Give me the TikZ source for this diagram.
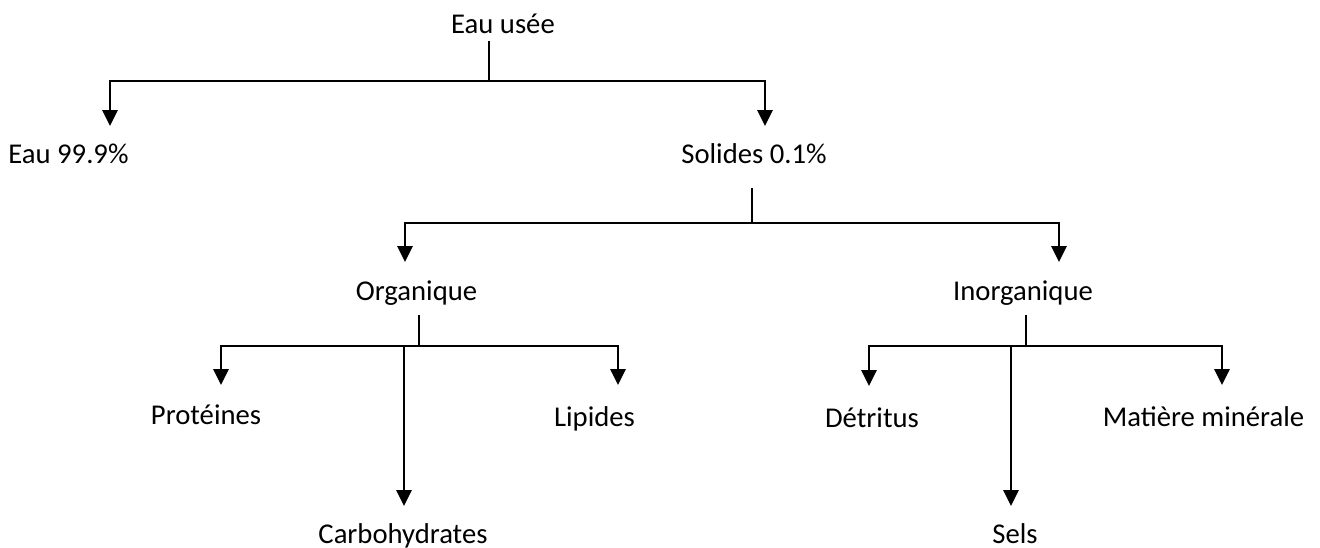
\documentclass[tikz,border=0pt]{standalone}
\usepackage{fontspec}
\setmainfont{Carlito}
\usetikzlibrary{arrows.meta}
\tikzset{
  label/.style={anchor=base, inner sep=0pt, font=\fontsize{21.5}{26}\selectfont},
  stub/.style={line width=1pt, black},
  conn/.style={line width=1.45pt, black, -{Triangle[width=11.5pt,length=12pt]}},
  bar/.style={line width=1.45pt, black}
}
\begin{document}
\begin{tikzpicture}[x=0.75pt, y=-0.75pt]
\useasboundingbox (0,0) rectangle (1320,547);

% labels (x = centre, y = baseline)
\node[label] (usee)   at (503,33)    {Eau usée};
\node[label] (eau)    at (68.5,163)  {Eau 99.9\%};
\node[label] (sol)    at (754,163)   {Solides 0.1\%};
\node[label] (org)    at (416.5,300) {Organique};
\node[label] (inorg)  at (1023,300)  {Inorganique};
\node[label] (prot)   at (206,424)   {Protéines};
\node[label] (lip)    at (594.5,426) {Lipides};
\node[label] (carb)   at (403,543)   {Carbohydrates};
\node[label] (detr)   at (872,427)   {Détritus};
\node[label] (miner)  at (1203.5,426){Matière minérale};
\node[label] (sels)   at (1015,543)  {Sels};

% level 1: Eau usée
\coordinate (s0) at (489,41);
\coordinate (j0) at (489,81);
\coordinate (tEau) at (110,126);
\coordinate (tSol) at (765,126);
\draw[stub] (s0) -- (j0);
\draw[conn] (j0) -| (tEau);
\draw[conn] (j0) -| (tSol);

% level 2: Solides
\coordinate (s1) at (752,188);
\coordinate (j1) at (752,223);
\coordinate (tOrg) at (405,262);
\coordinate (tInorg) at (1059,262);
\draw[stub] (s1) -- (j1);
\draw[conn] (j1) -| (tOrg);
\draw[conn] (j1) -| (tInorg);

% level 3: Organique
\coordinate (s2) at (419,315);
\coordinate (j2) at (419,346);
\coordinate (b2) at (404,346);
\coordinate (tProt) at (221,385);
\coordinate (tLip) at (618,385);
\coordinate (tCarb) at (404,506);
\draw[stub] (s2) -- (j2);
\draw[conn] (j2) -| (tProt);
\draw[conn] (j2) -| (tLip);
\draw[conn] (b2) -- (tCarb);

% level 3: Inorganique
\coordinate (s3) at (1026,315);
\coordinate (j3) at (1026,346);
\coordinate (b3) at (1011,346);
\coordinate (tDetr) at (869,386);
\coordinate (tMiner) at (1222,385);
\coordinate (tSels) at (1011,506);
\draw[stub] (s3) -- (j3);
\draw[conn] (j3) -| (tDetr);
\draw[conn] (j3) -| (tMiner);
\draw[conn] (b3) -- (tSels);
\end{tikzpicture}
\end{document}
